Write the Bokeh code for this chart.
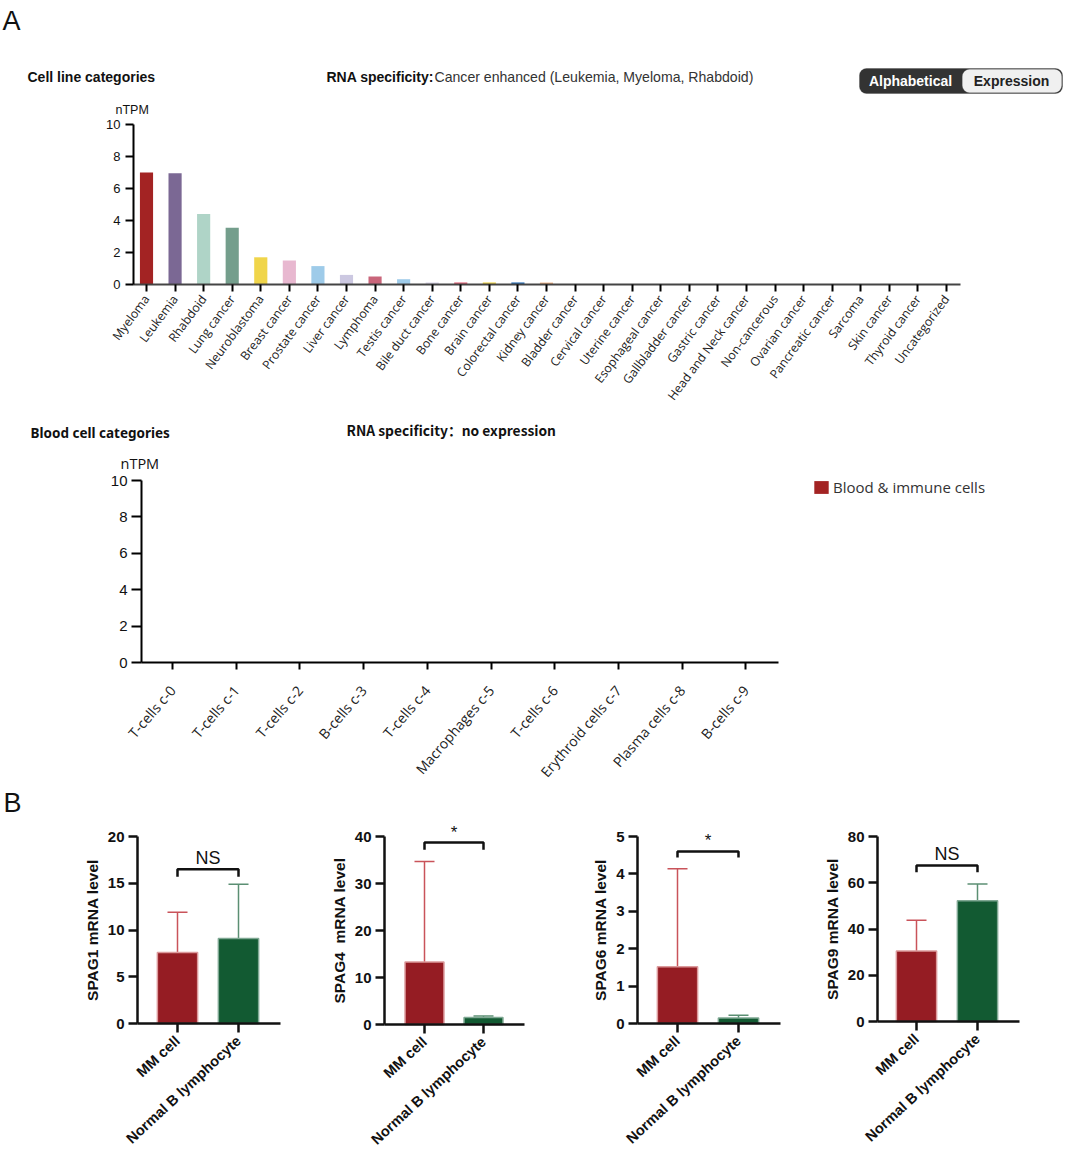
from bokeh.embed import file_html
from bokeh.layouts import column, row
from bokeh.models import BoxAnnotation, ColumnDataSource, Label, Legend, LinearAxis, Range1d, TeeHead, Whisker
from bokeh.plotting import figure
from bokeh.resources import INLINE

# panel A, cell lines
cancer_types = ["Myeloma", "Leukemia", "Rhabdoid", "Lung cancer", "Neuroblastoma", "Breast cancer",
                "Prostate cancer", "Liver cancer", "Lymphoma", "Testis cancer", "Bile duct cancer",
                "Bone cancer", "Brain cancer", "Colorectal cancer", "Kidney cancer", "Bladder cancer",
                "Cervical cancer", "Uterine cancer", "Esophageal cancer", "Gallbladder cancer",
                "Gastric cancer", "Head and Neck cancer", "Non-cancerous", "Ovarian cancer",
                "Pancreatic cancer", "Sarcoma", "Skin cancer", "Thyroid cancer", "Uncategorized"]
cancer_ntpm = [7.0, 6.95, 4.4, 3.55, 1.7, 1.5, 1.15, 0.6, 0.5, 0.33, 0.13, 0.13, 0.13, 0.13, 0.12,
               0, 0, 0, 0, 0, 0, 0, 0, 0, 0, 0, 0, 0, 0]
cancer_colors = ["#a32323", "#7b6894", "#afd4c7", "#749e8c", "#f0d54a", "#e8b8d0", "#9ecbe9",
                 "#ccc8e1", "#c9657a", "#9ecbe9", "#dcd8ea", "#e4667a", "#f0d54a", "#2a70b8",
                 "#f0b080"] + ["#cccccc"] * 14

# panel A, blood cells
blood_types = ["T-cells c-0", "T-cells c-1", "T-cells c-2", "B-cells c-3", "T-cells c-4",
               "Macrophages c-5", "T-cells c-6", "Erythroid cells c-7", "Plasma cells c-8", "B-cells c-9"]
blood_ntpm = [0, 0, 0, 0, 0, 0, 0, 0, 0, 0]
ntpm_ticks = [0, 2, 4, 6, 8, 10]

# panel B
cell_types = ["MM cell", "Normal B lymphocyte"]
spag1_mean = [7.6, 9.1]
spag1_upper = [11.9, 14.9]
spag4_mean = [13.3, 1.5]
spag4_upper = [34.7, 1.8]
spag6_mean = [1.52, 0.15]
spag6_upper = [4.14, 0.22]
spag9_mean = [30.5, 52.2]
spag9_upper = [43.8, 59.5]

FILL = ["#951c23", "#125a32"]
EDGE = ["#dc9a9c", "#7fa893"]
ERR = ["#c9535a", "#5b8f73"]

SANS = "Liberation Sans"
OPEN = "Open Sans"


def panel(cats, ymax, yticks, box, axis_x, right_x, tick0, step, top_y, base_y):
    # the frame fills the whole canvas so nothing gets clipped, axes sit at fixed places inside it
    left, top, right, bottom = box
    xs = [(left - tick0) / step, (right - tick0) / step]
    per_px = ymax / (base_y - top_y)
    ys = [(base_y - bottom) * per_px, (base_y - top) * per_px]
    p = figure(width=right - left, height=bottom - top, x_range=Range1d(*xs), y_range=Range1d(*ys),
               output_backend="svg", toolbar_location=None, min_border=0,
               x_axis_location=None, y_axis_location=None)
    p.grid.visible = False
    p.outline_line_color = None
    xa = LinearAxis(fixed_location=0, ticker=list(range(len(cats))),
                    major_label_overrides={i: c for i, c in enumerate(cats)},
                    bounds=((axis_x - tick0) / step, (right_x - tick0) / step))
    ya = LinearAxis(fixed_location=(axis_x - tick0) / step, ticker=yticks, bounds=(0, ymax))
    p.add_layout(xa, "below")
    p.add_layout(ya, "left")
    for a in (xa, ya):
        a.minor_tick_line_color = None
        a.major_tick_in = 0
        a.axis_line_width = 2
        a.major_tick_line_width = 2
    conv = dict(tick0=tick0, step=step, base=base_y, per_px=per_px)
    return p, xa, ya, conv


def text(p, conv, x, y, s, size, bold=False, font=SANS, color="#111111", align="left"):
    p.add_layout(Label(x=(x - conv["tick0"]) / conv["step"], y=(conv["base"] - y) * conv["per_px"], text=s,
                       text_font=font, text_font_size=size, text_font_style="bold" if bold else "normal",
                       text_color=color, text_baseline="middle", text_align=align))


def pill(p, conv, x0, y0, x1, y1, color):
    p.add_layout(BoxAnnotation(left=(x0 - conv["tick0"]) / conv["step"], right=(x1 - conv["tick0"]) / conv["step"],
                               top=(conv["base"] - y0) * conv["per_px"], bottom=(conv["base"] - y1) * conv["per_px"],
                               fill_color=color, fill_alpha=1, line_color=color, border_radius=7))


# cell line chart + header
p1, xa, ya, c1 = panel(cancer_types, 10, ntpm_ticks, (0, 0, 1065, 415), 133, 960, 146, 28.57, 124, 284)
p1.vbar(x=list(range(len(cancer_types))), top=cancer_ntpm, width=0.46, fill_color=cancer_colors, line_color=None)
ya.major_tick_out = 8
ya.major_label_text_font = SANS
ya.major_label_text_font_size = "13px"
ya.major_label_text_color = "#111111"
ya.major_label_standoff = 5
xa.major_tick_out = 7
xa.axis_line_color = "#444444"
xa.major_label_orientation = 0.93
xa.major_label_text_font = OPEN
xa.major_label_text_font_size = "12.2px"
xa.major_label_text_color = "#222222"
xa.major_label_standoff = 5

text(p1, c1, 2, 20, "A", "27px")
text(p1, c1, 27, 76, "Cell line categories", "14px", bold=True)
text(p1, c1, 326, 76, "RNA specificity:", "14px", bold=True)
text(p1, c1, 434, 76, "Cancer enhanced (Leukemia, Myeloma, Rhabdoid)", "14.1px", color="#333333")
text(p1, c1, 115, 109, "nTPM", "12.5px")
pill(p1, c1, 859, 68, 1062, 93, "#333333")
pill(p1, c1, 962, 69, 1061, 92, "#f0f0f0")
text(p1, c1, 910, 80, "Alphabetical", "14px", bold=True, color="white", align="center")
text(p1, c1, 1011, 80, "Expression", "14px", bold=True, color="#222222", align="center")

# blood cell chart
p2, xa, ya, c2 = panel(blood_types, 10, ntpm_ticks, (0, 415, 1065, 781), 141, 778, 172, 63.7, 480, 662)
blood_bars = p2.vbar(x=list(range(len(blood_types))), top=blood_ntpm, width=0.46, fill_color="#a32323", line_color=None)
ya.major_tick_out = 10
ya.major_label_text_font = SANS
ya.major_label_text_font_size = "15px"
ya.major_label_text_color = "#111111"
ya.major_label_standoff = 4
xa.major_tick_out = 7
xa.major_label_orientation = 0.86
xa.major_label_text_font = OPEN
xa.major_label_text_font_size = "14px"
xa.major_label_text_color = "#222222"
xa.major_label_standoff = 18

text(p2, c2, 30, 432, "Blood cell categories", "13.5px", bold=True, font="Noto Sans")
text(p2, c2, 346, 429, "RNA specificity：no expression", "13.8px", bold=True, font="Noto Sans CJK SC")
text(p2, c2, 120, 463, "nTPM", "14.5px", font=OPEN)
legend = Legend(items=[("Blood & immune cells", [blood_bars])], location=(812, 284), padding=0, margin=0,
                border_line_color=None, background_fill_alpha=0, glyph_width=18, glyph_height=16,
                label_text_font=OPEN, label_text_font_size="15px", label_text_color="#333333",
                label_standoff=3)
p2.add_layout(legend)


def bar_panel(name, means, uppers, ymax, yticks, box, axis_x, right_x, tick0, tick1, base_y, bracket, mark, mark_size):
    p, xa, ya, conv = panel(cell_types, ymax, yticks, box, axis_x, right_x, tick0, tick1 - tick0, 836, base_y)
    for i in range(2):
        one = ColumnDataSource(dict(x=[i], base=[means[i]], upper=[uppers[i]]))
        p.add_layout(Whisker(base="x", upper="upper", lower="base", dimension="height", source=one,
                             line_color=ERR[i], line_width=1.5, lower_head=None,
                             upper_head=TeeHead(size=20, line_color=ERR[i], line_width=1.5), level="underlay"))
    p.vbar(x=[0, 1], top=means, width=0.66, fill_color=FILL, line_color=EDGE, line_width=1.5)
    ya.axis_label = name + " mRNA level"
    ya.axis_label_text_font = SANS
    ya.axis_label_text_font_style = "bold"
    ya.axis_label_text_font_size = "15.5px"
    ya.axis_label_text_color = "#111111"
    ya.axis_label_standoff = 4
    for a in (xa, ya):
        a.major_label_text_font = SANS
        a.major_label_text_font_style = "bold"
        a.major_label_text_color = "#111111"
        a.major_tick_out = 9
        a.major_tick_line_width = 2.5
        a.axis_line_width = 2.5
        a.axis_line_color = "#111111"
        a.major_tick_line_color = "#111111"
    ya.major_label_text_font_size = "15px"
    xa.major_label_text_font_size = "14.6px"
    ya.major_label_standoff = 4
    xa.major_label_standoff = 6
    xa.major_label_orientation = 0.75
    # bracket over the two bars
    low, high = bracket
    p.line(x=[0, 0, 1, 1], y=[low, high, high, low], line_color="#111111", line_width=2.5)
    p.add_layout(Label(x=0.5, y=high, text=mark, text_align="center", text_baseline="bottom",
                       text_font=SANS, text_font_size=mark_size, text_color="#111111", y_offset=1))
    return p, conv


b1, c3 = bar_panel("SPAG1", spag1_mean, spag1_upper, 20, [0, 5, 10, 15, 20], (0, 781, 326, 1149), 137, 280, 177, 238, 1023,
                   (15.7, 16.5), "NS", "18px")
text(b1, c3, 3, 802, "B", "27px")
b2, _ = bar_panel("SPAG4\u00a0", spag4_mean, spag4_upper, 40, [0, 10, 20, 30, 40], (326, 781, 585, 1149), 384, 524, 424, 483, 1024,
                  (37.2, 38.7), "*", "17px")
b3, _ = bar_panel("SPAG6", spag6_mean, spag6_upper, 5, [0, 1, 2, 3, 4, 5], (585, 781, 818, 1149), 637, 780, 677, 738, 1023,
                  (4.44, 4.6), "*", "17px")
b4, _ = bar_panel("SPAG9", spag9_mean, spag9_upper, 80, [0, 20, 40, 60, 80], (818, 781, 1065, 1149), 877, 1019, 916, 977, 1021,
                  (64.5, 67.5), "NS", "18px")

layout = column(p1, p2, row(b1, b2, b3, b4, spacing=0), spacing=0)
open("out.html", "w").write(file_html(layout, INLINE))
